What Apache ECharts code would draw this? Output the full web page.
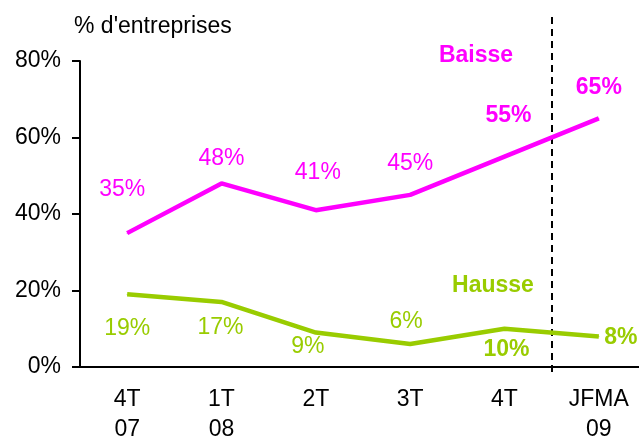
<!DOCTYPE html>
<html>
<head>
<meta charset="utf-8">
<script src="https://cdn.jsdelivr.net/npm/echarts@6/dist/echarts.min.js"></script>
<style>
  html, body { margin: 0; padding: 0; background: #fff; }
  #chart { width: 639px; height: 439px; }
</style>
</head>
<body>
<div id="chart"></div>
<script>
var categories = ['4T\n07', '1T\n08', '2T', '3T', '4T', 'JFMA\n09'];
var baisse = [35, 48, 41, 45, 55, 65];
var hausse = [19, 17, 9, 6, 10, 8];
var yTicks = [0, 20, 40, 60, 80];

// decalage des etiquettes par rapport au point
var baisseOffsets = [[-5, -43], [0, -25], [2, -38], [0, -31], [4, -41], [0, -31]];
var hausseOffsets = [[0, 34], [-1, 26], [-8, 14], [-4, -22], [2, 21], [22, 1]];
var boldFrom = 4; // 4T et JFMA en gras

var FONT = 'Liberation Sans';
var FS = 23;
var PINK = '#ff00ff';
var GREEN = '#99cc00';

function buildData(values, offsets) {
    return values.map(function (v, i) {
        return {
            value: v,
            label: {
                offset: offsets[i],
                fontWeight: i >= boldFrom ? 'bold' : 'normal'
            }
        };
    });
}

window.onload = function () {
    var myChart = echarts.init(document.getElementById('chart'));
    myChart.setOption({
        animation: false,
        title: {
            text: "% d'entreprises",
            left: 69,
            top: 10,
            textStyle: { fontFamily: FONT, fontSize: FS, fontWeight: 'normal', color: '#000' }
        },
        grid: { left: 80, top: 61, right: -7, bottom: 72, outerBoundsMode: 'none', containLabel: false },
        xAxis: {
            type: 'category',
            data: categories,
            boundaryGap: true,
            axisLine: { lineStyle: { color: '#000', width: 2 } },
            axisTick: { length: 8, lineStyle: { color: '#000', width: 2 } },
            axisLabel: { color: '#000', fontFamily: FONT, fontSize: FS, lineHeight: 30, margin: 18 }
        },
        yAxis: {
            type: 'value',
            min: yTicks[0],
            max: yTicks[yTicks.length - 1],
            interval: 20,
            splitLine: { show: false },
            axisLine: { show: true, lineStyle: { color: '#000', width: 2 } },
            axisTick: { show: true, length: 8, lineStyle: { color: '#000', width: 2 } },
            axisLabel: { color: '#000', fontFamily: FONT, fontSize: FS, margin: 19, formatter: '{value}%' }
        },
        series: [{
            name: 'Baisse',
            type: 'line',
            data: buildData(baisse, baisseOffsets),
            symbol: 'circle',
            symbolSize: 1,
            lineStyle: { color: PINK, width: 4.5 },
            itemStyle: { color: PINK },
            label: { show: true, position: 'inside', color: PINK, fontFamily: FONT, fontSize: FS, formatter: '{c}%' }
        }, {
            name: 'Hausse',
            type: 'line',
            data: buildData(hausse, hausseOffsets),
            symbol: 'circle',
            symbolSize: 1,
            lineStyle: { color: GREEN, width: 4.5 },
            itemStyle: { color: GREEN },
            label: { show: true, position: 'inside', color: GREEN, fontFamily: FONT, fontSize: FS, formatter: '{c}%' }
        }]
    });

    // ligne pointillee entre 4T et JFMA
    var x4 = myChart.convertToPixel({ xAxisIndex: 0 }, 4);
    var x5 = myChart.convertToPixel({ xAxisIndex: 0 }, 5);
    var xSep = Math.round((x4 + x5) / 2);
    myChart.setOption({
        graphic: [{
            type: 'line',
            shape: { x1: xSep, y1: 17, x2: xSep, y2: 375 },
            style: { stroke: '#000', lineWidth: 2, lineDash: [7, 5] }
        }, {
            type: 'text',
            x: 476, y: 56,
            style: { text: 'Baisse', fill: PINK, font: 'bold 23px "Liberation Sans"', align: 'center', verticalAlign: 'middle' }
        }, {
            type: 'text',
            x: 493, y: 286,
            style: { text: 'Hausse', fill: GREEN, font: 'bold 23px "Liberation Sans"', align: 'center', verticalAlign: 'middle' }
        }]
    });
};
</script>
</body>
</html>
